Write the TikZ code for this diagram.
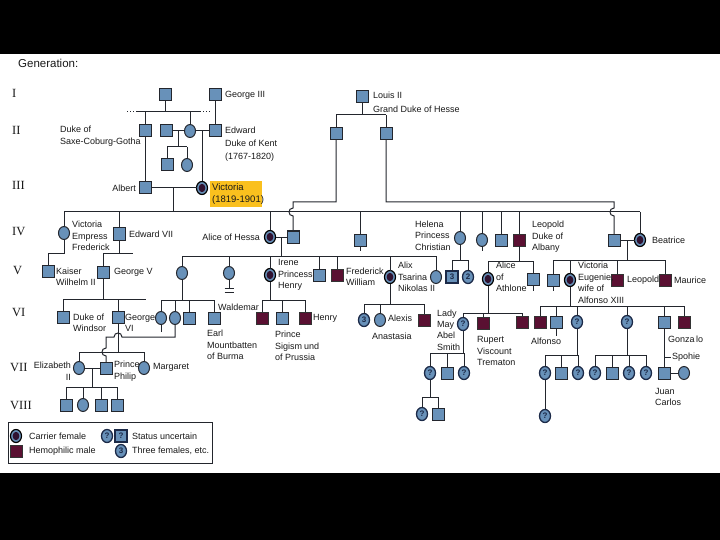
\documentclass[tikz,border=0pt]{standalone}
\usepackage{fontspec}
\setmainfont{Liberation Sans}
\newfontfamily\romfont{Liberation Serif}
\usetikzlibrary{shapes.geometric}
\definecolor{blueF}{RGB}{104,145,185}
\definecolor{lineC}{RGB}{35,38,45}
\definecolor{hemC}{RGB}{90,16,50}
\definecolor{carC}{RGB}{48,18,48}
\definecolor{qC}{RGB}{28,42,72}
\definecolor{textC}{RGB}{25,25,25}
\definecolor{hl}{RGB}{250,192,30}
\tikzset{
  ln/.style={draw=lineC, line width=1pt},
  sym/.style={draw=lineC, line width=1pt, inner sep=0pt, outer sep=0pt},
  sq/.style={sym, rectangle, minimum size=12pt, fill=blueF},
  fe/.style={sym, ellipse, minimum width=11pt, minimum height=13pt, fill=blueF},
  car/.style={fe, draw=black, line width=1.2pt, path picture={\fill[carC] (path picture bounding box.center) ellipse [x radius=3.4pt, y radius=4.2pt];}},
  hm/.style={sym, rectangle, minimum size=12pt, fill=hemC, draw=black!80},
  qf/.style={fe, draw=qC, line width=1.3pt, text=qC, font=\fontsize{8}{8}\selectfont\bfseries},
  qm/.style={sq, draw=qC, line width=1.3pt, text=qC, font=\fontsize{8}{8}\selectfont\bfseries},
  lab/.style={inner sep=0pt, align=left, anchor=west, text=textC, font=\fontsize{9}{11.5}\selectfont},
  labr/.style={lab, align=right, anchor=east},
  gen/.style={inner sep=0pt, anchor=west, text=textC, font=\romfont\fontsize{12.5}{12.5}\selectfont},
}
\begin{document}
\begin{tikzpicture}[x=1pt,y=-1pt]
\useasboundingbox (0,0) rectangle (720,540);
\fill[white] (0,0) rectangle (720,540);
\fill[black] (0,0) rectangle (720,54);
\fill[black] (0,473) rectangle (720,540);

% titles and generation numerals
\node[lab, font=\fontsize{11.5}{12}\selectfont] (title) at (18,63) {Generation:};
\node[gen] (gI) at (12,93) {I};
\node[gen] (gII) at (12,130) {II};
\node[gen] (gIII) at (12,185) {III};
\node[gen] (gIV) at (12,232) {IV};
\node[gen] (gV) at (13,271) {V};
\node[gen] (gVI) at (12,313) {VI};
\node[gen] (gVII) at (10,368) {VII};
\node[gen] (gVIII) at (10,405) {VIII};

% ---------- Generation I
\node[sq] (g1a) at (165,95) {};
\node[sq] (geo) at (215,95) {};
\node[lab] (tgeo) at (225,95) {George III};
\coordinate (j1L) at (137,112);
\coordinate (j1R) at (200,112);
\draw[ln] (j1L) -- (j1R);
\draw[ln, dotted] (127,112) -- (j1L);
\draw[ln, dotted] (j1R) -- (211,112);
\draw[ln] (g1a) -- (g1a |- j1L);

% ---------- Generation II
\node[sq] (dsc) at (145,131) {};
\node[sq] (g2b) at (166,131) {};
\node[fe] (g2c) at (190,131) {};
\node[sq] (edw) at (215,131) {};
\node[lab] (tdsc) at (60,136) {Duke of\\Saxe-Coburg-Gotha};
\node[lab, font=\fontsize{9}{12.8}\selectfont] (tedw) at (225,144) {Edward\\Duke of Kent\\(1767-1820)};
\draw[ln] (dsc |- j1L) -- (dsc);
\draw[ln] (g2c |- j1L) -- (g2c);
\draw[ln] (geo) -- (edw);
\draw[ln] (g2b) -- (g2c);
\draw[ln] (g2c) -- (edw);
\coordinate (d2) at (178,131);
\coordinate (s2) at (178,147);
\node[sq] (g3x) at (167,165) {};
\node[fe] (g3y) at (187,165) {};
\draw[ln] (d2) -- (s2);
\draw[ln] (g3x |- s2) -- (g3y |- s2);
\draw[ln] (g3x |- s2) -- (g3x);
\draw[ln] (g3y |- s2) -- (g3y);

% ---------- Generation III
\node[sq] (alb) at (145,188) {};
\node[car] (vic) at (202,188) {};
\node[labr] (talb) at (136,188) {Albert};
\fill[hl] (210,181) rectangle (262,207);
\node[lab, font=\fontsize{9.5}{12.5}\selectfont] (tvic) at (212,194) {Victoria\\(1819-1901)};
\draw[ln] (dsc) -- (alb);
\draw[ln] (vic |- g2c) -- (vic);
\draw[ln] (alb) -- (vic);
\coordinate (d3) at (173,188);
\coordinate (L4) at (173,212);
\draw[ln] (d3) -- (L4);

% Louis II of Hesse
\node[sq] (lou) at (362,97) {};
\node[lab, font=\fontsize{9}{14}\selectfont] (tlou) at (373,102) {Louis II\\Grand Duke of Hesse};
\coordinate (sL) at (362,115);
\node[sq] (h1) at (336,134) {};
\node[sq] (h2) at (386,134) {};
\draw[ln] (lou) -- (sL);
\draw[ln] (h1 |- sL) -- (h2 |- sL);
\draw[ln] (h1 |- sL) -- (h1);
\draw[ln] (h2 |- sL) -- (h2);

% ---------- Generation IV
\node[fe] (vef) at (64,233) {};
\node[sq] (e7) at (119,234) {};
\node[car] (alice) at (270,237) {};
\node[sq] (lou4) at (293,237) {};
\node[sq] (g4s) at (360,240) {};
\node[fe] (helena) at (460,238) {};
\node[fe] (g4c) at (482,240) {};
\node[sq] (g4sq) at (501,240) {};
\node[hm] (leo) at (519,240) {};
\node[sq] (henb) at (614,240) {};
\node[car] (bea) at (640,240) {};
\node[lab] (tvef) at (72,236) {Victoria\\Empress\\Frederick};
\node[lab] (te7) at (129,234) {Edward VII};
\node[labr] (talice) at (260,237) {Alice of Hessa};
\node[lab] (thel) at (415,235.5) {Helena\\Princess\\Christian};
\node[lab] (tleo) at (532,237) {Leopold\\Duke of\\Albany};
\node[lab] (tbea) at (652,240) {Beatrice};
\draw[ln] (vef |- L4) -- (bea |- L4);
\foreach \n in {vef,e7,alice,g4s,helena,g4c,g4sq,leo,bea} \draw[ln] (\n |- L4) -- (\n);
\draw[ln] (g4s) -- (360,251);
\draw[ln] (g4c) -- (482,251);
\draw[ln] (h1) -- (336,202) -- (293,202) -- (293,208) .. controls (287.7,208) and (287.7,216) .. (293,216) -- (lou4);
\draw[ln] (h2) -- (386,202) -- (614,202) -- (614,208) .. controls (608.7,208) and (608.7,216) .. (614,216) -- (henb);
\draw[ln] (alice) -- (lou4);
\draw[ln] (henb) -- (bea);

% ---------- Generation V
\node[sq] (kw) at (48,271) {};
\node[lab] (tkw) at (56,277) {Kaiser\\Wilhelm II};
\coordinate (s5a) at (48,253);
\draw[ln] (vef) -- (vef |- s5a) -- (s5a) -- (kw);
\node[sq] (g5) at (103,272) {};
\node[lab] (tg5) at (114,272) {George V};
\coordinate (s5b) at (103,253);
\coordinate (s5bR) at (133,253);
\draw[ln] (e7) -- (e7 |- s5b);
\draw[ln] (s5b) -- (s5bR);
\draw[ln] (s5b) -- (g5);

\node[fe] (vh) at (182,273) {};
\node[fe] (g5b) at (229,273) {};
\node[car] (irene) at (270,275) {};
\node[sq] (g5c) at (319,275) {};
\node[hm] (fw) at (337,275) {};
\node[car] (alix) at (390,277) {};
\node[fe] (g5d) at (436,277) {};
\node[lab] (tirene) at (278,275) {Irene\\Princess\\Henry};
\node[lab] (tfw) at (346,277) {Frederick\\William};
\node[lab] (talix) at (398,277) {Alix\\Tsarina\\Nikolas II};
\coordinate (d4a) at (281,237);
\coordinate (s5h) at (281,256);
\draw[ln] (d4a) -- (s5h);
\draw[ln] (vh |- s5h) -- (g5d |- s5h);
\foreach \n in {vh,g5b,irene,g5c,fw,alix,g5d} \draw[ln] (\n |- s5h) -- (\n);
\draw[ln] (g5b) -- (229,288.5);
\draw[ln] (224.5,288.5) -- (233.5,288.5);
\draw[ln] (224.5,292) -- (233.5,292);

\node[qm] (h3) at (452,277) {3};
\node[qf] (h2c) at (468,277) {2};
\coordinate (s5c) at (460,260);
\draw[ln] (helena) -- (s5c);
\draw[ln] (h3 |- s5c) -- (h2c |- s5c);
\draw[ln] (h3 |- s5c) -- (h3);
\draw[ln] (h2c |- s5c) -- (h2c);

\node[car] (aoa) at (488,279) {};
\node[sq] (g5e) at (533,279) {};
\node[lab] (taoa) at (496,277) {Alice\\of\\Athlone};
\coordinate (s5d) at (519,261);
\draw[ln] (leo) -- (s5d);
\draw[ln] (aoa |- s5d) -- (g5e |- s5d);
\draw[ln] (aoa |- s5d) -- (aoa);
\draw[ln] (g5e |- s5d) -- (g5e);
\draw[ln] (g5e) -- (533,291);

\node[sq] (g5f) at (553,280) {};
\node[car] (ve) at (570,280) {};
\node[hm] (leo2) at (617,280) {};
\node[hm] (mau) at (665,280) {};
\node[lab] (tve) at (578,283) {Victoria\\Eugenie,\\wife of\\Alfonso XIII};
\node[lab] (tleo2) at (627,280) {Leopold};
\node[lab] (tmau) at (674,280) {Maurice};
\coordinate (d4b) at (627,240);
\coordinate (s5e) at (627,260);
\draw[ln] (d4b) -- (s5e);
\draw[ln] (g5f |- s5e) -- (mau |- s5e);
\foreach \n in {g5f,ve,leo2,mau} \draw[ln] (\n |- s5e) -- (\n);
\draw[ln] (g5f) -- (553,291);

% ---------- Generation VI
\node[sq] (dw) at (63,317) {};
\node[sq] (g6) at (118,317) {};
\node[lab] (tdw) at (73,323) {Duke of\\Windsor};
\node[lab] (tg6) at (125,323) {George\\VI};
\coordinate (s6a) at (103,299);
\draw[ln] (g5) -- (s6a);
\draw[ln] (dw |- s6a) -- (146,299);
\draw[ln] (dw |- s6a) -- (dw);
\draw[ln] (g6 |- s6a) -- (g6);

\node[fe] (c6a) at (161,318) {};
\node[fe] (c6b) at (175,318) {};
\node[sq] (c6c) at (189,318) {};
\node[sq] (em) at (214,318) {};
\node[lab] (tem) at (207,345) {Earl\\Mountbatten\\of Burma};
\coordinate (s6b) at (182,300);
\draw[ln] (vh) -- (s6b);
\draw[ln] (c6a |- s6b) -- (em |- s6b);
\foreach \n in {c6a,c6b,c6c,em} \draw[ln] (\n |- s6b) -- (\n);
\draw[ln] (c6a) -- (161,332);

\node[hm] (wal) at (262,318) {};
\node[sq] (sig) at (282,318) {};
\node[hm] (hen) at (305,318) {};
\node[lab] (twal) at (218,307) {Waldemar};
\node[lab] (then) at (313,318) {Henry};
\node[lab] (tsig) at (275,346) {Prince\\Sigism\kern2pt{}und\\of Prussia};
\coordinate (s6c) at (270,300);
\draw[ln] (irene) -- (s6c);
\draw[ln] (wal |- s6c) -- (hen |- s6c);
\foreach \n in {wal,sig,hen} \draw[ln] (\n |- s6c) -- (\n);

\node[qf] (c3) at (364,320) {3};
\node[fe] (ana) at (380,320) {};
\node[hm] (alx) at (424,320) {};
\node[lab] (talx) at (388,318) {Alexis};
\node[lab] (tana) at (372,336) {Anastasia};
\coordinate (s6d) at (390,304);
\draw[ln] (alix) -- (s6d);
\draw[ln] (c3 |- s6d) -- (alx |- s6d);
\foreach \n in {c3,ana,alx} \draw[ln] (\n |- s6d) -- (\n);

\node[qf] (lm) at (463,324) {?};
\node[hm] (rup) at (483,323) {};
\node[hm] (mau2) at (522,322) {};
\node[lab, font=\fontsize{9}{11.3}\selectfont] (tlm) at (437,330) {Lady\\May\\Abel\\Smith};
\node[lab] (trup) at (477,351) {Rupert\\Viscount\\Trematon};
\coordinate (s6e) at (488,313);
\draw[ln] (aoa) -- (s6e);
\draw[ln] (lm |- s6e) -- (mau2 |- s6e);
\foreach \n in {lm,rup,mau2} \draw[ln] (\n |- s6e) -- (\n);

\node[hm] (alf) at (540,322) {};
\node[sq] (jai) at (556,322) {};
\node[qf] (bq) at (577,322) {?};
\node[qf] (cq) at (627,322) {?};
\node[sq] (dj) at (664,322) {};
\node[hm] (gon) at (684,322) {};
\node[lab] (talf) at (531,341) {Alfonso};
\node[lab] (tgon) at (668,339) {Gonza\kern1.5pt{}lo};
\coordinate (s6f) at (570,306);
\draw[ln] (ve) -- (s6f);
\draw[ln] (alf |- s6f) -- (gon |- s6f);
\foreach \n in {alf,jai,bq,cq,dj,gon} \draw[ln] (\n |- s6f) -- (\n);
\draw[ln] (jai) -- (556,336);

% ---------- Generation VII
\node[fe] (eliz) at (79,368) {};
\node[sq] (phil) at (106,368) {};
\node[fe] (marg) at (144,368) {};
\node[labr] (teliz) at (71,371) {Elizabeth\\II};
\node[lab] (tphil) at (114,371) {Prince\\Philip};
\node[lab] (tmarg) at (153,367) {Margaret};
\coordinate (s7a) at (118,352);
\draw[ln] (g6) -- (s7a);
\draw[ln] (eliz |- s7a) -- (marg |- s7a);
\draw[ln] (eliz |- s7a) -- (eliz);
\draw[ln] (marg |- s7a) -- (marg);
\draw[ln] (c6b) -- (175,337) -- (122,337) .. controls (122,331.7) and (114,331.7) .. (114,337) -- (106,337) -- (106,348) .. controls (100.7,348) and (100.7,356) .. (106,356) -- (phil);
\draw[ln] (eliz) -- (phil);

\node[qf] (lm1) at (430,373) {?};
\node[sq] (lm2) at (447,373) {};
\node[qf] (lm3) at (464,373) {?};
\coordinate (s7b) at (463,353);
\draw[ln] (lm) -- (s7b);
\draw[ln] (lm1 |- s7b) -- (lm3 |- s7b);
\foreach \n in {lm1,lm2,lm3} \draw[ln] (\n |- s7b) -- (\n);

\node[qf] (b1) at (545,373) {?};
\node[sq] (b2) at (561,373) {};
\node[qf] (b3) at (578,373) {?};
\coordinate (s7c) at (577,355);
\draw[ln] (bq) -- (s7c);
\draw[ln] (b1 |- s7c) -- (b3 |- s7c);
\foreach \n in {b1,b2,b3} \draw[ln] (\n |- s7c) -- (\n);

\node[qf] (c1) at (595,373) {?};
\node[sq] (c2) at (612,373) {};
\node[qf] (c3b) at (629,373) {?};
\node[qf] (c4) at (646,373) {?};
\coordinate (s7d) at (627,355);
\draw[ln] (cq) -- (s7d);
\draw[ln] (c1 |- s7d) -- (c4 |- s7d);
\foreach \n in {c1,c2,c3b,c4} \draw[ln] (\n |- s7d) -- (\n);

\node[sq] (jc) at (664,373) {};
\node[fe] (sop) at (684,373) {};
\node[lab] (tjc) at (655,397) {Juan\\Carlos};
\coordinate (tk) at (664,357);
\draw[ln] (dj) -- (jc);
\draw[ln] (tk) -- (671,357);
\node[lab] (tsop) at (672,357) {Spohie};
\draw[ln] (jc) -- (sop);

% ---------- Generation VIII
\node[sq] (k1) at (66,405) {};
\node[fe] (k2) at (83,405) {};
\node[sq] (k3) at (101,405) {};
\node[sq] (k4) at (117,405) {};
\coordinate (d7) at (92,368);
\coordinate (s8a) at (92,387);
\draw[ln] (d7) -- (s8a);
\draw[ln] (k1 |- s8a) -- (k4 |- s8a);
\foreach \n in {k1,k2,k3,k4} \draw[ln] (\n |- s8a) -- (\n);

\node[qf] (lm1a) at (422,414) {?};
\node[sq] (lm1b) at (438,414) {};
\coordinate (s8b) at (430,397);
\draw[ln] (lm1) -- (s8b);
\draw[ln] (lm1a |- s8b) -- (lm1b |- s8b);
\draw[ln] (lm1a |- s8b) -- (lm1a);
\draw[ln] (lm1b |- s8b) -- (lm1b);

\node[qf] (b1a) at (545,416) {?};
\draw[ln] (b1) -- (b1a);

% ---------- Legend
\draw[draw=lineC, line width=0.9pt] (8,422) rectangle (212,463);
\node[car] (Lc) at (16,436) {};
\node[lab] (tLc) at (29,436) {Carrier female};
\node[hm] (Lh) at (16,451) {};
\node[lab] (tLh) at (29,451) {Hemophilic male};
\node[qf] (Lq1) at (107,436) {?};
\node[qm] (Lq2) at (121,436) {?};
\node[lab] (tLq) at (132,436) {Status uncertain};
\node[qf] (L3) at (121,451) {3};
\node[lab] (tL3) at (132,451) {Three females, etc.};
\end{tikzpicture}
\end{document}
